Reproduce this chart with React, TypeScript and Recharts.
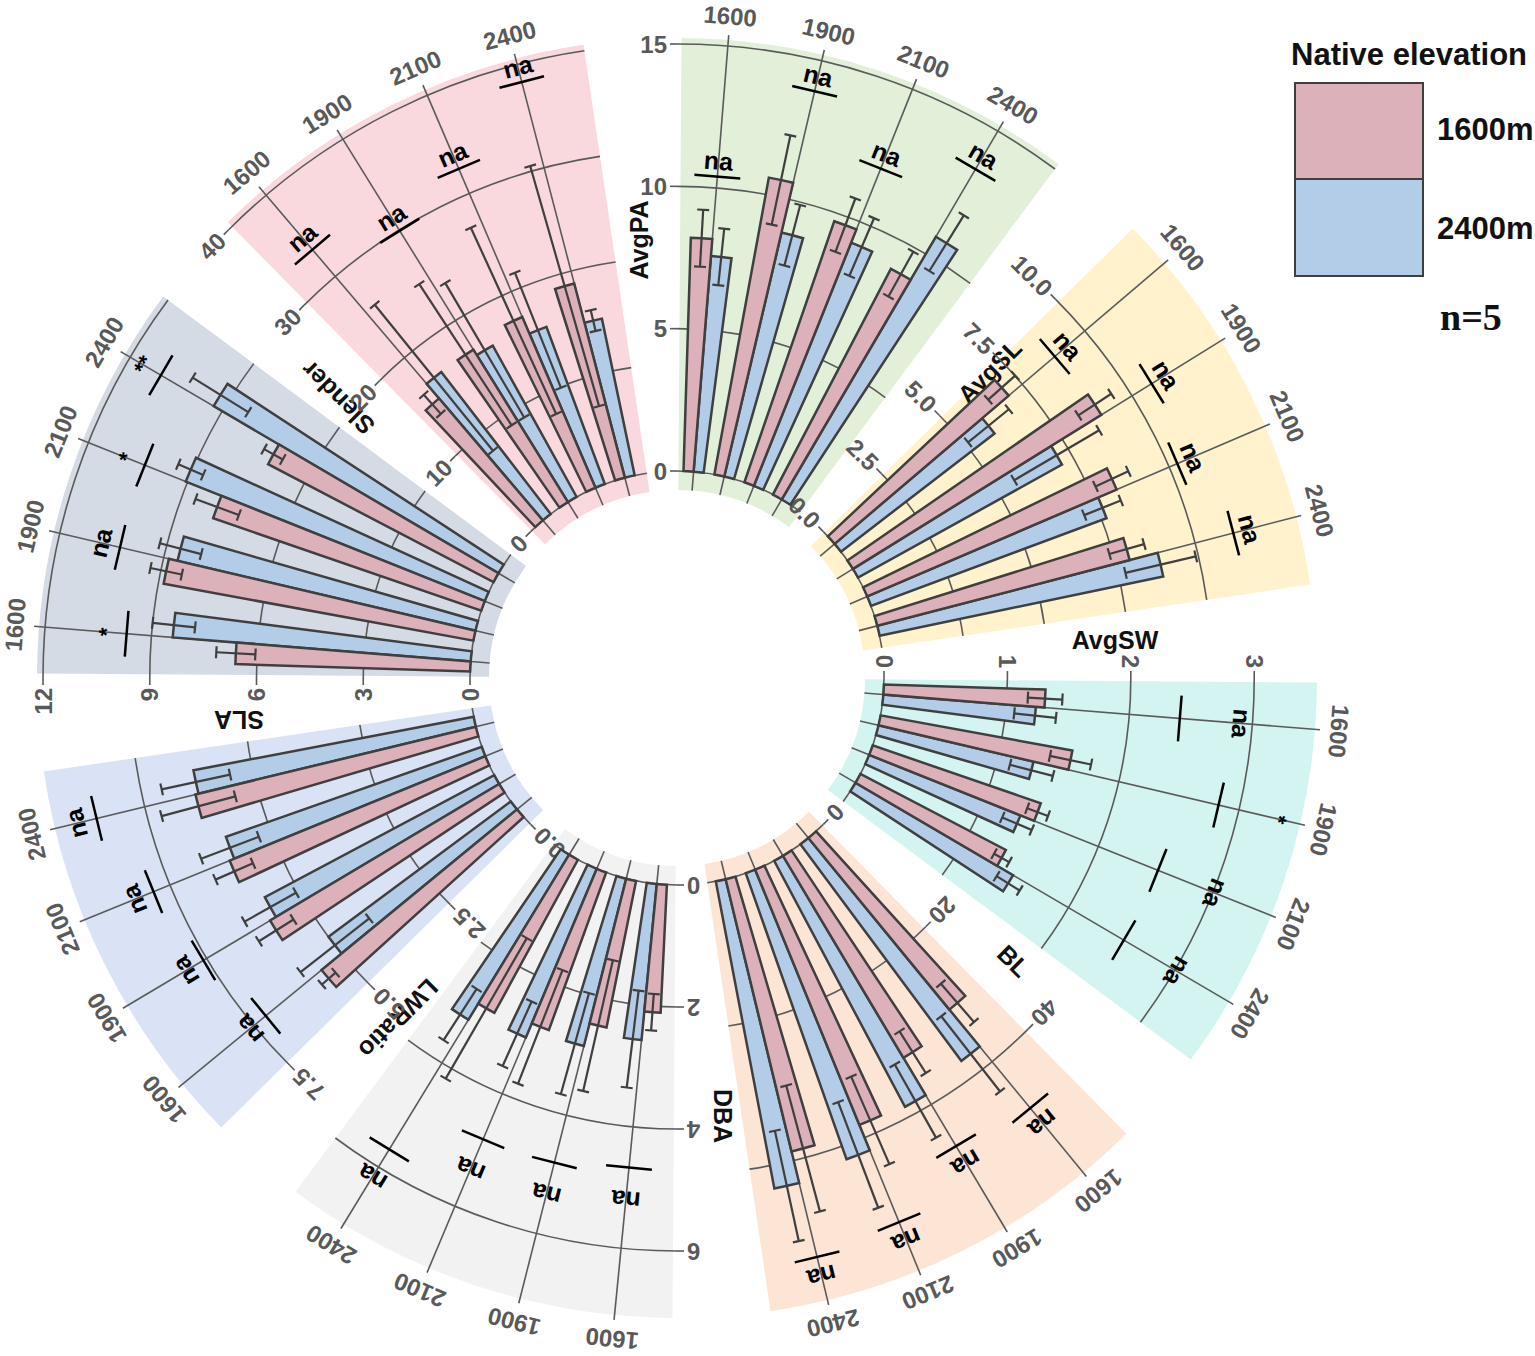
import React from 'react';
import { RadialBarChart, RadialBar, PolarAngleAxis, PolarRadiusAxis, PieChart, Pie, Sector } from 'recharts';

const W = 1535;
const H = 1356;
const CX = 677;
const CY = 678;
const R_IN = 207;
const R_OUT = 634;
const RAD = Math.PI / 180;
const SPAN = 36.6;
// angular range handed to each chart (the band axis places groups one band below its start)
const RANGE_LO = -26.6;
const RANGE_HI = 7.8;
const SANS = '"Liberation Sans", Arial, Helvetica, sans-serif';
const SERIF = '"Liberation Serif", "Times New Roman", serif';
const PINK = '#DCB1BA';
const BLUE = '#B3CCE8';
const EDGE = '#3F3F3F';
const GRID = '#5A5A5A';
const TICKTXT = '#595959';

const elevations = ['1600', '1900', '2100', '2400'];

// AvgPA
const avgPAPink = [8.2, 10.6, 9.7, 8.95];
const avgPAPinkSd = [1.0, 1.6, 1.0, 0.9];
const avgPABlue = [7.6, 8.8, 9.2, 10.7];
const avgPABlueSd = [1.0, 1.1, 1.1, 1.15];
const avgPASig = ['na', 'na', 'na', 'na'];
const avgPASigAt = [10.4, 13.9, 12.0, 13.45];

// AvgSL
const avgSLPink = [6.96, 8.9, 8.26, 7.94];
const avgSLPinkSd = [0.55, 0.6, 0.55, 0.55];
const avgSLBlue = [5.9, 7.1, 7.65, 8.82];
const avgSLBlueSd = [0.8, 1.5, 0.6, 1.1];
const avgSLSig = ['na', 'na', 'na', 'na'];
const avgSLSigAt = [8.8, 10.7, 10.27, 11.2];

// AvgSW
const avgSWPink = [1.31, 1.58, 1.44, 1.33];
const avgSWPinkSd = [0.14, 0.17, 0.09, 0.07];
const avgSWBlue = [1.24, 1.29, 1.32, 1.48];
const avgSWBlueSd = [0.17, 0.18, 0.13, 0.11];
const avgSWSig = ['na', '*', 'na', 'na'];
const avgSWSigAt = [2.41, 2.83, 2.52, 2.52];

// BL
const blPink = [30.7, 32.5, 38.1, 38.7];
const blPinkSd = [3.5, 3.4, 6.6, 9.0];
const blBlue = [37.3, 38.5, 41.9, 43.2];
const blBlueSd = [6.6, 5.8, 7.8, 7.8];
const blSig = ['na', 'na', 'na', 'na'];
const blSigAt = [48.3, 46.7, 52.6, 53.7];

// DBA
const dbaPink = [2.1, 2.45, 2.75, 2.86];
const dbaPinkSd = [0.3, 1.1, 1.0, 1.33];
const dbaBlue = [2.57, 2.83, 3.0, 3.17];
const dbaBlueSd = [0.8, 0.86, 0.58, 0.5];
const dbaSig = ['na', 'na', 'na', 'na'];
const dbaSigAt = [4.67, 4.8, 4.81, 5.66];

// LWRatio
const lwPink = [5.57, 5.87, 6.08, 6.35];
const lwPinkSd = [0.2, 0.45, 0.45, 0.84];
const lwBlue = [5.0, 5.72, 5.97, 6.28];
const lwBlueSd = [0.96, 0.65, 0.68, 0.77];
const lwSig = ['na', 'na', 'na', 'na'];
const lwSigAt = [7.16, 7.58, 7.89, 8.59];

// SLA
const slaPink = [6.6, 8.85, 7.97, 7.15];
const slaPinkSd = [0.55, 0.45, 0.65, 0.3];
const slaBlue = [8.4, 8.6, 9.05, 9.28];
const slaBlueSd = [0.6, 0.6, 0.38, 0.92];
const slaSig = ['*', 'na', '*', '**'];
const slaSigAt = [9.7, 10.26, 10.29, 11.0];

// Slender
const slPink = [15.0, 16.8, 17.4, 18.8];
const slPinkSd = [1.2, 7.9, 9.6, 11.7];
const slBlue = [16.8, 16.2, 15.7, 15.0];
const slBlueSd = [8.8, 7.3, 5.8, 1.0];
const slSig = ['na', 'na', 'na', 'na'];
const slSigAt = [33.3, 29.9, 32.5, 38.3];

const sectors = [
  { name: 'AvgPA', angle: 90, max: 15, ticks: [0, 5, 10, 15], dec: 0, bg: '#E2F0D9', pink: avgPAPink, pinkSd: avgPAPinkSd, blue: avgPABlue, blueSd: avgPABlueSd, sig: avgPASig, sigAt: avgPASigAt, labelOff: 38, textGap: 16 },
  { name: 'AvgSL', angle: 45, max: 12.6, ticks: [0, 2.5, 5, 7.5, 10], dec: 1, bg: '#FFF2CC', pink: avgSLPink, pinkSd: avgSLPinkSd, blue: avgSLBlue, blueSd: avgSLBlueSd, sig: avgSLSig, sigAt: avgSLSigAt, labelOff: -4, textGap: 17 },
  { name: 'AvgSW', angle: 0, max: 3.46, ticks: [0, 1, 2, 3], dec: 0, bg: '#D3F4F0', pink: avgSWPink, pinkSd: avgSWPinkSd, blue: avgSWBlue, blueSd: avgSWBlueSd, sig: avgSWSig, sigAt: avgSWSigAt, labelOff: 38, textGap: 62 },
  { name: 'BL', angle: -45, max: 59, ticks: [0, 20, 40], dec: 0, bg: '#FCE5D5', pink: blPink, pinkSd: blPinkSd, blue: blBlue, blueSd: blBlueSd, sig: blSig, sigAt: blSigAt, labelOff: 38, textGap: 20 },
  { name: 'DBA', angle: -90, max: 6.5, ticks: [0, 2, 4, 6], dec: 0, bg: '#F2F2F2', pink: dbaPink, pinkSd: dbaPinkSd, blue: dbaBlue, blueSd: dbaBlueSd, sig: dbaSig, sigAt: dbaSigAt, labelOff: 46, textGap: 33 },
  { name: 'LWRatio', angle: -135, max: 9.4, ticks: [0, 2.5, 5, 7.5], dec: 1, bg: '#D9E3F5', pink: lwPink, pinkSd: lwPinkSd, blue: lwBlue, blueSd: lwBlueSd, sig: lwSig, sigAt: lwSigAt, labelOff: 44, textGap: 21 },
  { name: 'SLA', angle: 180, max: 12, ticks: [0, 3, 6, 9, 12], dec: 0, bg: '#D5DBE5', pink: slaPink, pinkSd: slaPinkSd, blue: slaBlue, blueSd: slaBlueSd, sig: slaSig, sigAt: slaSigAt, labelOff: 42, textGap: 20 },
  { name: 'Slender', angle: 135, max: 40, ticks: [0, 10, 20, 30, 40], dec: 0, bg: '#F9D8DE', pink: slPink, pinkSd: slPinkSd, blue: slBlue, blueSd: slBlueSd, sig: slSig, sigAt: slSigAt, labelOff: 42, textGap: 16 },
];

const rowsOf = (s: any) =>
  elevations
    .map((e, i) => ({ elev: e, pink: s.pink[i], pinkSd: s.pinkSd[i], blue: s.blue[i], blueSd: s.blueSd[i], sig: s.sig[i], sigAt: s.sigAt[i] }))
    .reverse();

function pol(cx: number, cy: number, r: number, a: number) {
  return { x: cx + r * Math.cos(a * RAD), y: cy - r * Math.sin(a * RAD) };
}
function tan(cx: number, cy: number, r: number, a: number, half: number) {
  const p = pol(cx, cy, r, a);
  const tx = Math.sin(a * RAD);
  const ty = Math.cos(a * RAD);
  return { x1: p.x - tx * half, y1: p.y - ty * half, x2: p.x + tx * half, y2: p.y + ty * half };
}

const makeTick = (s: any) => (props: any) => {
  const { x, y, payload, index } = props;
  const r = Math.hypot(x - CX, y - CY);
  const A = s.angle;
  const p1 = pol(CX, CY, r, A);
  const p2 = pol(CX, CY, r, A - SPAN);
  const arc = `M${p1.x},${p1.y} A${r},${r} 0 0 1 ${p2.x},${p2.y}`;
  const rot = 90 - A;
  const label = Number(payload.value).toFixed(s.dec);
  let trait = null;
  if (index === 0) {
    const lp = pol(CX, CY, 438, A);
    const nx = -Math.sin(A * RAD);
    const ny = -Math.cos(A * RAD);
    const tx = lp.x + nx * s.labelOff;
    const ty = lp.y + ny * s.labelOff;
    trait = (
      <text x={tx} y={ty} transform={`rotate(${-A}, ${tx}, ${ty})`} textAnchor="middle" dominantBaseline="central" fontFamily={SANS} fontWeight="bold" fontSize={25} fill="#111">
        {s.name}
      </text>
    );
  }
  return (
    <g>
      <path d={arc} fill="none" stroke={GRID} strokeWidth={1.6} />
      <g transform={`rotate(${rot}, ${x}, ${y})`}>
        <line x1={x} y1={y} x2={x - 7} y2={y} stroke={GRID} strokeWidth={1.6} />
        <text x={x - 10} y={y} textAnchor="end" dominantBaseline="central" fontFamily={SANS} fontWeight="bold" fontSize={24} fill={TICKTXT}>
          {label}
        </text>
      </g>
      {trait}
    </g>
  );
};

const makeBarShape = (which: 'pink' | 'blue', s: any) => (props: any) => {
  const { cx, cy, innerRadius, outerRadius, startAngle, endAngle, payload } = props;
  const mean = payload[which];
  const sd = payload[which + 'Sd'];
  const k = (outerRadius - innerRadius) / mean;
  const rv = (v: number) => innerRadius + k * v;
  const lo = Math.min(startAngle, endAngle);
  const hi = Math.max(startAngle, endAngle);
  const mid = (lo + hi) / 2;
  const e1 = pol(cx, cy, rv(mean - sd), mid);
  const e2 = pol(cx, cy, rv(mean + sd), mid);
  const c1 = tan(cx, cy, rv(mean - sd), mid, 6);
  const c2 = tan(cx, cy, rv(mean + sd), mid, 6);
  let pre = null;
  let post = null;
  if (which === 'blue') {
    const g = hi;
    const a = pol(cx, cy, 188, g);
    const b = pol(cx, cy, 645, g);
    const t = pol(cx, cy, 664, g);
    pre = (
      <g>
        <line x1={a.x} y1={a.y} x2={b.x} y2={b.y} stroke={GRID} strokeWidth={1.6} />
        <text x={t.x} y={t.y} transform={`rotate(${90 - g}, ${t.x}, ${t.y})`} textAnchor="middle" dominantBaseline="central" fontFamily={SANS} fontWeight="bold" fontSize={24} fill={TICKTXT}>
          {payload.elev}
        </text>
      </g>
    );
  } else {
    const g = lo;
    const rb = rv(payload.sigAt);
    const br = tan(cx, cy, rb, g, 23);
    const tp = pol(cx, cy, rb + s.textGap, g);
    post = (
      <g>
        <line {...br} stroke="#000" strokeWidth={2.5} />
        <text x={tp.x} y={tp.y} transform={`rotate(${90 - g}, ${tp.x}, ${tp.y})`} textAnchor="middle" dominantBaseline="central" fontFamily={SANS} fontWeight="bold" fontSize={payload.sig === 'na' ? 25 : 22} fill="#000">
          {payload.sig}
        </text>
      </g>
    );
  }
  return (
    <g>
      {pre}
      <Sector cx={cx} cy={cy} innerRadius={innerRadius} outerRadius={outerRadius} startAngle={startAngle} endAngle={endAngle} fill={which === 'pink' ? PINK : BLUE} stroke={EDGE} strokeWidth={2.5} />
      <line x1={e1.x} y1={e1.y} x2={e2.x} y2={e2.y} stroke={EDGE} strokeWidth={2.2} />
      <line {...c1} stroke={EDGE} strokeWidth={2.2} />
      <line {...c2} stroke={EDGE} strokeWidth={2.2} />
      {post}
    </g>
  );
};

const layer: React.CSSProperties = { position: 'absolute', left: 0, top: 0 };
const noMargin = { top: 0, right: 0, bottom: 0, left: 0 };

function Legend() {
  return (
    <>
      <div style={{ position: 'absolute', left: 1291, top: 39, fontFamily: SANS, fontWeight: 'bold', fontSize: 31, lineHeight: '32px', color: '#111', whiteSpace: 'nowrap' }}>Native elevation</div>
      <div style={{ position: 'absolute', left: 1294, top: 82, width: 126, height: 94, background: PINK, border: `2px solid ${EDGE}` }} />
      <div style={{ position: 'absolute', left: 1294, top: 178, width: 126, height: 95, background: BLUE, border: `2px solid ${EDGE}` }} />
      <div style={{ position: 'absolute', left: 1437, top: 114, fontFamily: SANS, fontWeight: 'bold', fontSize: 31, lineHeight: '32px', color: '#111' }}>1600m</div>
      <div style={{ position: 'absolute', left: 1437, top: 213, fontFamily: SANS, fontWeight: 'bold', fontSize: 31, lineHeight: '32px', color: '#111' }}>2400m</div>
      <div style={{ position: 'absolute', left: 1440, top: 297, fontFamily: SERIF, fontWeight: 'bold', fontSize: 38, lineHeight: '40px', color: '#111' }}>n=5</div>
    </>
  );
}

export default function App() {
  return (
    <div style={{ position: 'absolute', left: 0, top: 0, width: W, height: H, background: '#fff', overflow: 'hidden' }}>
      <div style={layer}>
        <PieChart width={W} height={H} margin={noMargin}>
          {sectors.map((s) => (
            <Pie key={s.name} data={[{ v: 1 }]} dataKey="v" cx={CX} cy={CY} innerRadius={188} outerRadius={640} startAngle={s.angle - 0.4} endAngle={s.angle - SPAN} fill={s.bg} stroke="none" isAnimationActive={false} />
          ))}
        </PieChart>
      </div>
      {sectors.map((s) => (
        <div key={'ax' + s.name} style={layer}>
          <RadialBarChart width={W} height={H} cx={CX} cy={CY} innerRadius={R_IN} outerRadius={R_OUT} startAngle={s.angle + RANGE_LO} endAngle={s.angle + RANGE_HI} data={rowsOf(s)} layout="centric" barGap={0} margin={noMargin}>
            <PolarAngleAxis type="category" dataKey="elev" tick={false} axisLine={false} tickLine={false} />
            <PolarRadiusAxis type="number" domain={[0, s.max]} ticks={s.ticks} angle={s.angle} axisLine={false} tickLine={false} tick={makeTick(s)} />
            <RadialBar dataKey="blue" barSize={2.8} shape={() => <g />} isAnimationActive={false} />
          </RadialBarChart>
        </div>
      ))}
      {sectors.map((s) => (
        <div key={'bar' + s.name} style={layer}>
          <RadialBarChart width={W} height={H} cx={CX} cy={CY} innerRadius={R_IN} outerRadius={R_OUT} startAngle={s.angle + RANGE_LO} endAngle={s.angle + RANGE_HI} data={rowsOf(s)} layout="centric" barGap={0} margin={noMargin}>
            <PolarAngleAxis type="category" dataKey="elev" tick={false} axisLine={false} tickLine={false} />
            <PolarRadiusAxis type="number" domain={[0, s.max]} angle={s.angle} axisLine={false} tick={false} />
            <RadialBar dataKey="blue" barSize={2.8} shape={makeBarShape('blue', s)} isAnimationActive={false} />
            <RadialBar dataKey="pink" barSize={2.8} shape={makeBarShape('pink', s)} isAnimationActive={false} />
          </RadialBarChart>
        </div>
      ))}
      <Legend />
    </div>
  );
}
